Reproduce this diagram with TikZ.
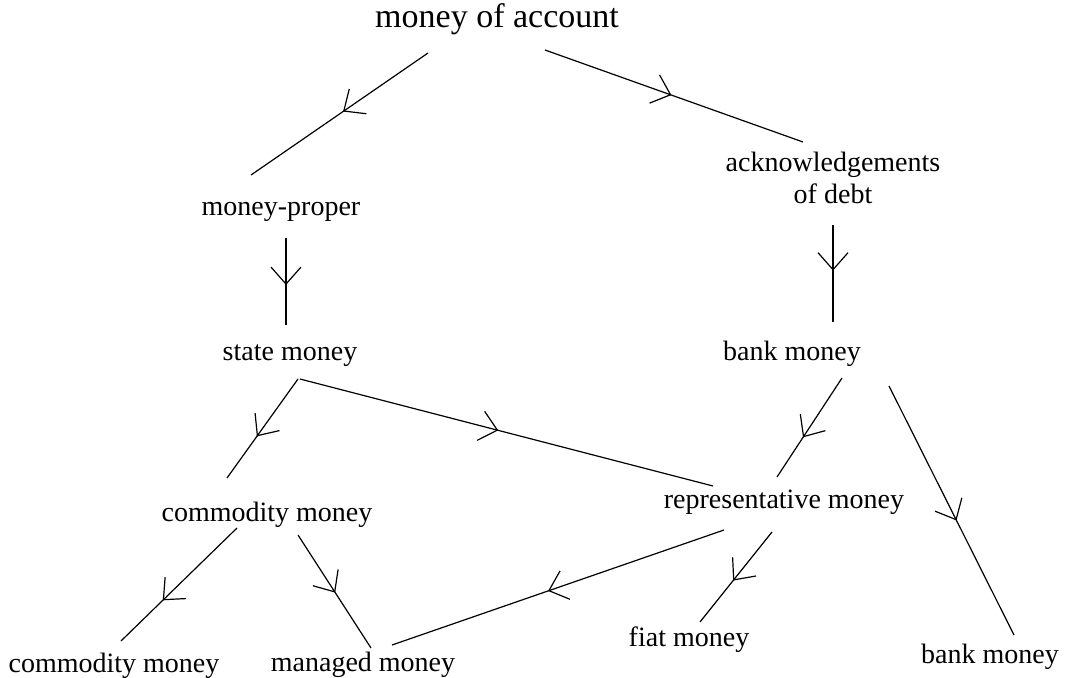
\documentclass[tikz,border=0pt]{standalone}
\usepackage{fontspec}
\setmainfont{Liberation Serif}
\usetikzlibrary{arrows.meta,decorations.markings,calc}
\tikzset{
  lbl/.style={inner sep=0pt, anchor=base, font=\fontsize{28}{32}\selectfont},
  conn/.style={line width=1.2pt},
  midarr/.style={conn, postaction={decorate}, decoration={markings, mark=at position #1 with {\arrow{Straight Barb[length=17pt,width=30pt,line width=1.2pt]}}}}
}
\begin{document}
\begin{tikzpicture}[x=1pt,y=-1pt]
\useasboundingbox (0,0) rectangle (1065,677);
\node[lbl, font=\fontsize{34}{40}\selectfont] (moa) at (497,28) {money of account};
\node[lbl] (mp) at (281,215) {money-proper};
\node[lbl, anchor=center, align=center] (ack) at (833,178) {acknowledgements\\of debt};
\node[lbl] (sm) at (290,360) {state money};
\node[lbl] (bm) at (792,360) {bank money};
\node[lbl] (cm) at (267,521) {commodity money};
\node[lbl] (rm) at (784,508) {representative money};
\node[lbl] (cm2) at (114,672) {commodity money};
\node[lbl] (mm) at (363,671) {managed money};
\node[lbl] (fm) at (689,646) {fiat money};
\node[lbl] (bm2) at (990,663) {bank money};

\draw[midarr=0.48] ($(moa.base)+(-69,25)$) -- ($(mp.base)+(-30,-40)$);
\draw[midarr=0.49] ($(moa.base)+(48,22)$) -- ($(ack.center)+(-30,-36)$);
\draw[midarr=0.54] ($(mp.base)+(5,23)$) -- ($(sm.base)+(-4,-35)$);
\draw[midarr=0.47] ($(ack.center)+(0,47)$) -- ($(bm.base)+(41,-38)$);
\draw[midarr=0.58] ($(sm.base)+(8,19)$) -- ($(cm.base)+(-40,-43)$);
\draw[midarr=0.48] ($(sm.base)+(10,19)$) -- ($(rm.base)+(-71,-22)$);
\draw[midarr=0.6] ($(bm.base)+(50,18)$) -- ($(rm.base)+(-7,-31)$);
\draw[midarr=0.54] ($(bm.base)+(97,26)$) -- ($(bm2.base)+(24,-28)$);
\draw[midarr=0.64] ($(cm.base)+(-30,7)$) -- ($(cm2.base)+(7,-31)$);
\draw[midarr=0.51] ($(cm.base)+(31,14)$) -- ($(mm.base)+(8,-23)$);
\draw[midarr=0.53] ($(rm.base)+(-60,22)$) -- ($(mm.base)+(29,-26)$);
\draw[midarr=0.54] ($(rm.base)+(-12,24)$) -- ($(fm.base)+(11,-24)$);
\end{tikzpicture}
\end{document}
